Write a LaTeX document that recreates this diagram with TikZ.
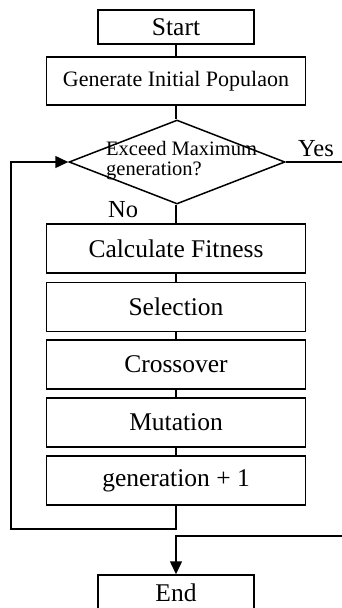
\documentclass[tikz,border=0pt]{standalone}
\usepackage{fontspec}
\setmainfont{Liberation Serif}
\usetikzlibrary{shapes.geometric,arrows.meta}
\begin{document}
\begin{tikzpicture}[x=1pt,y=-1pt,
  box/.style={draw, line width=1.5pt, rectangle, inner sep=0pt, minimum width=259pt, minimum height=49pt, font=\fontsize{25.5}{28}\selectfont},
  conn/.style={line width=1.5pt},
  arr/.style={line width=1.5pt, -{Triangle[length=13pt,width=12pt]}},
  lbl/.style={inner sep=0pt, anchor=base west, font=\fontsize{24.5}{28}\selectfont}]
\useasboundingbox (0,0) rectangle (342,608);
\node[box, minimum width=156pt, minimum height=34pt] (start) at (176,27) {Start};
\node[box, minimum height=48pt, font=\fontsize{22}{24}\selectfont] (gen) at (176,81) {Generate Initial Populaon};
\node[draw, diamond, line width=1.5pt, minimum width=216pt, minimum height=84pt, inner sep=0pt] (dec) at (177,162) {};
\node[anchor=north west, inner sep=0pt, align=left, font=\fontsize{20.5}{20}\selectfont] (dtext) at (106,141) {Exceed Maximum\\generation?};
\node[box] (calc) at (176,248.5) {Calculate Fitness};
\node[box] (sel) at (176,307) {Selection};
\node[box] (cross) at (176,364.5) {Crossover};
\node[box] (mut) at (176,422.5) {Mutation};
\node[box] (inc) at (176,480.5) {generation + 1};
\node[box, minimum width=156pt, minimum height=36pt] (end) at (176,593) {End};
\node[lbl] (yes) at (298,156) {Yes};
\node[lbl] (no) at (108,217) {No};
\coordinate (lb) at (11,529);
\coordinate (yesend) at (343,162);
\coordinate (ret) at (343,536);
\draw[conn] (start) -- (gen);
\draw[conn] (gen.south) -- (gen.south |- dec.north);
\draw[conn] (dec.south -| calc.north) -- (calc.north);
\draw[conn] (calc) -- (sel);
\draw[conn] (sel) -- (cross);
\draw[conn] (cross) -- (mut);
\draw[conn] (mut) -- (inc);
\draw[arr] (inc.south) |- (lb) |- (dec.west);
\draw[conn] (dec.east) -- (yesend);
\draw[arr] (ret) -| (end.north);
\end{tikzpicture}
\end{document}
